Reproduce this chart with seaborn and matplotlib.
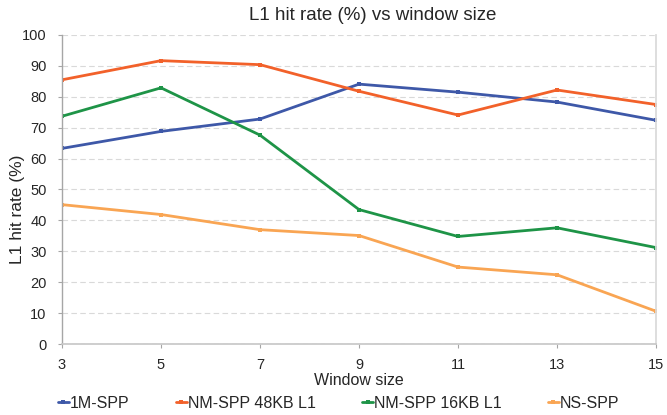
import matplotlib
matplotlib.use("Agg")
import matplotlib.pyplot as plt
import seaborn as sns
import pandas as pd

window_sizes = [3, 5, 7, 9, 11, 13, 15]
one_m_spp = [63.3, 68.8, 72.8, 84.1, 81.5, 78.3, 72.4]
nm_spp_48kb = [85.5, 91.7, 90.4, 81.8, 74.1, 82.2, 77.5]
nm_spp_16kb = [73.7, 82.9, 67.6, 43.5, 34.8, 37.6, 31.2]
ns_spp = [45.1, 41.9, 37.0, 35.1, 24.9, 22.4, 10.6]
series_names = ["1M-SPP", "NM-SPP 48KB L1", "NM-SPP 16KB L1", "NS-SPP"]
colors = ["#3E58A8", "#F2612A", "#1E9447", "#F9A553"]

rows = []
for name, vals in zip(series_names, [one_m_spp, nm_spp_48kb, nm_spp_16kb, ns_spp]):
    for x, v in zip(window_sizes, vals):
        rows.append({"Window size": x, "rate": v, "series": name})
df = pd.DataFrame(rows)

sns.set_theme(style="white")
plt.rcParams["font.family"] = ["Liberation Sans", "DejaVu Sans"]

fig = plt.figure(figsize=(6.67, 4.15), dpi=100)
ax = fig.add_axes([62 / 667, 1 - 344 / 415, 594 / 667, 309 / 415])

sns.lineplot(data=df, x="Window size", y="rate", hue="series", hue_order=series_names,
             palette=colors, marker="s", markersize=3, markeredgewidth=0, linewidth=2,
             ax=ax, legend=True)

ax.set_xlim(3, 15)
ax.set_ylim(0, 100)
ax.set_xticks(window_sizes)
ax.set_yticks(range(0, 101, 10))
ax.tick_params(axis="both", labelsize=10.5, length=3, width=0.8, color="#A6A6A6",
               direction="out", bottom=True, left=True)
ax.tick_params(axis="x", pad=7)
ax.tick_params(axis="y", pad=8)
ax.yaxis.grid(True, linestyle=(0, (5, 3)), color="#D9D9D9", linewidth=0.8)
ax.set_axisbelow(True)
ax.spines["top"].set_visible(False)
ax.spines["left"].set_color("#A6A6A6")
ax.spines["right"].set_color("#D9D9D9")
ax.spines["bottom"].set_color("#C8C8C8")
ax.spines["left"].set_linewidth(1)

ax.set_xlabel("Window size", fontsize=11.5)
ax.xaxis.set_label_coords(0.5, -0.095)
ax.set_ylabel("L1 hit rate (%)", fontsize=12.5)
ax.yaxis.set_label_coords(-0.062, 0.437)

fig.text(373 / 667, 1 - 15 / 415, "L1 hit rate (%) vs window size", fontsize=13.5,
         ha="center", va="center")

handles, labels = ax.get_legend_handles_labels()
ax.get_legend().remove()
fig.legend(handles, labels, loc="center", bbox_to_anchor=(339 / 667, 1 - 403 / 415), ncol=4,
           frameon=False, fontsize=11.5, handlelength=0.65, handletextpad=0.1,
           columnspacing=2.9, borderpad=0, borderaxespad=0)

fig.savefig("out.png", dpi=100)
